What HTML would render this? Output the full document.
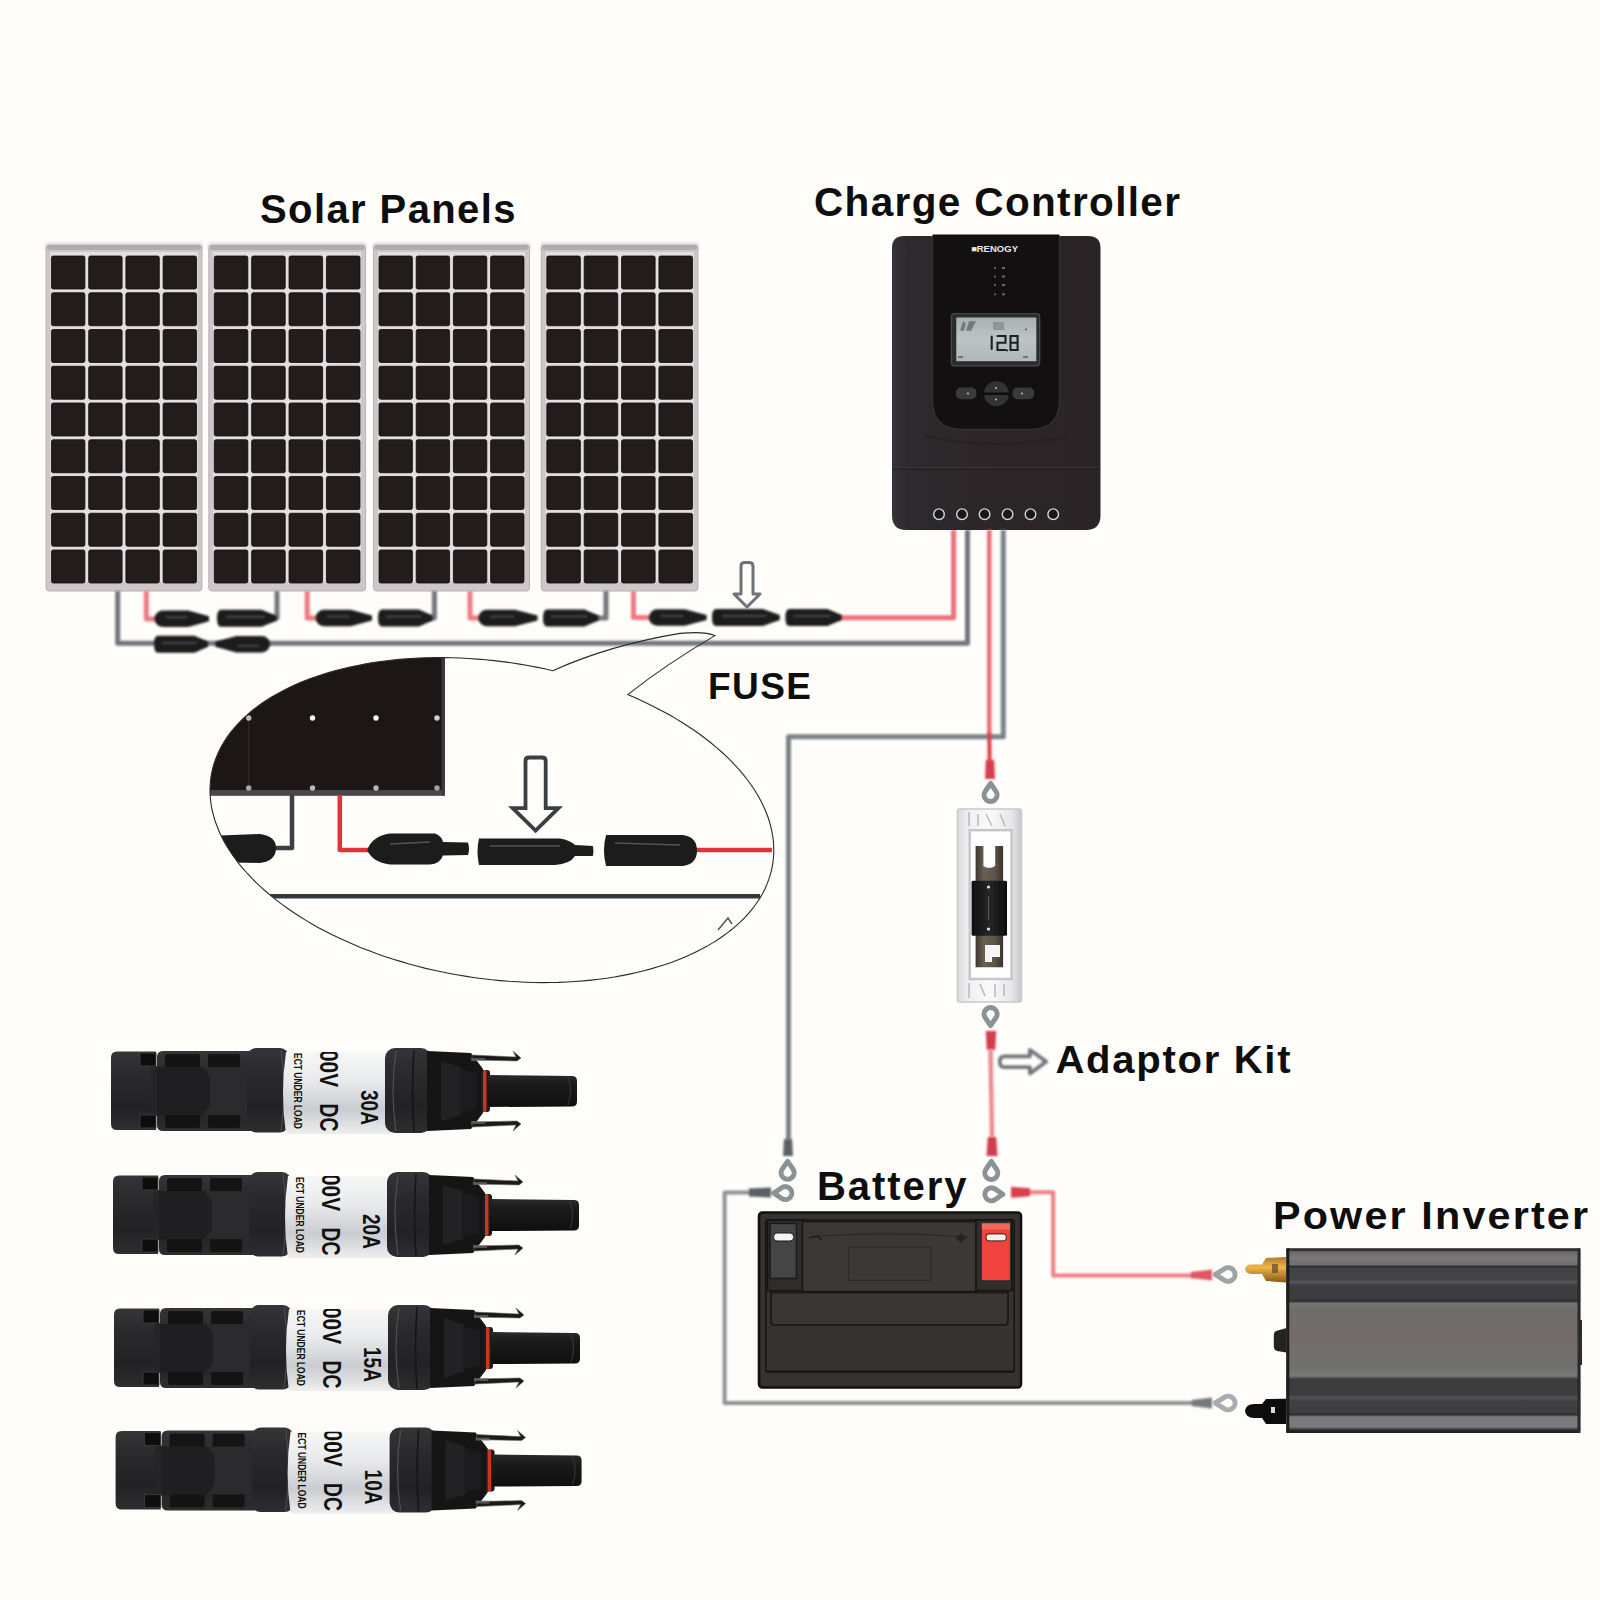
<!DOCTYPE html><html><head><meta charset="utf-8"><style>html,body{margin:0;padding:0;background:#fefdfa;}svg{display:block}</style></head><body>
<svg width="1600" height="1600" viewBox="0 0 1600 1600">
<defs><filter id="bl1" filterUnits="userSpaceOnUse" x="0" y="0" width="1600" height="1600"><feGaussianBlur stdDeviation="0.6"/></filter><filter id="bl2" filterUnits="userSpaceOnUse" x="0" y="0" width="1600" height="1600"><feGaussianBlur stdDeviation="0.9"/></filter><filter id="bl3" filterUnits="userSpaceOnUse" x="0" y="0" width="1600" height="1600"><feGaussianBlur stdDeviation="1.3"/></filter></defs>
<rect width="1600" height="1600" fill="#fefdfa"/>
<g>
<rect x="45.0" y="242" width="158.0" height="10" rx="3" fill="#d8d4d6" opacity="0.6" filter="url(#bl3)"/>
<rect x="46.0" y="245" width="156.0" height="346" rx="3" fill="#cdc7ca" stroke="#b9b3b7" stroke-width="1"/>
<rect x="47.0" y="245" width="154.0" height="5" rx="2" fill="#aaa3a9" opacity="0.8"/>
<rect x="50.5" y="252" width="147.0" height="330" fill="#e3dedf"/>
<rect x="51.50" y="256.00" width="33.40" height="33" rx="1.8" fill="#221c1b" stroke="#0f0b0b" stroke-width="0.8"/>
<rect x="88.70" y="256.00" width="33.40" height="33" rx="1.8" fill="#221c1b" stroke="#0f0b0b" stroke-width="0.8"/>
<rect x="125.90" y="256.00" width="33.40" height="33" rx="1.8" fill="#221c1b" stroke="#0f0b0b" stroke-width="0.8"/>
<rect x="163.10" y="256.00" width="33.40" height="33" rx="1.8" fill="#221c1b" stroke="#0f0b0b" stroke-width="0.8"/>
<rect x="51.50" y="292.75" width="33.40" height="33" rx="1.8" fill="#221c1b" stroke="#0f0b0b" stroke-width="0.8"/>
<rect x="88.70" y="292.75" width="33.40" height="33" rx="1.8" fill="#221c1b" stroke="#0f0b0b" stroke-width="0.8"/>
<rect x="125.90" y="292.75" width="33.40" height="33" rx="1.8" fill="#221c1b" stroke="#0f0b0b" stroke-width="0.8"/>
<rect x="163.10" y="292.75" width="33.40" height="33" rx="1.8" fill="#221c1b" stroke="#0f0b0b" stroke-width="0.8"/>
<rect x="51.50" y="329.50" width="33.40" height="33" rx="1.8" fill="#221c1b" stroke="#0f0b0b" stroke-width="0.8"/>
<rect x="88.70" y="329.50" width="33.40" height="33" rx="1.8" fill="#221c1b" stroke="#0f0b0b" stroke-width="0.8"/>
<rect x="125.90" y="329.50" width="33.40" height="33" rx="1.8" fill="#221c1b" stroke="#0f0b0b" stroke-width="0.8"/>
<rect x="163.10" y="329.50" width="33.40" height="33" rx="1.8" fill="#221c1b" stroke="#0f0b0b" stroke-width="0.8"/>
<rect x="51.50" y="366.25" width="33.40" height="33" rx="1.8" fill="#221c1b" stroke="#0f0b0b" stroke-width="0.8"/>
<rect x="88.70" y="366.25" width="33.40" height="33" rx="1.8" fill="#221c1b" stroke="#0f0b0b" stroke-width="0.8"/>
<rect x="125.90" y="366.25" width="33.40" height="33" rx="1.8" fill="#221c1b" stroke="#0f0b0b" stroke-width="0.8"/>
<rect x="163.10" y="366.25" width="33.40" height="33" rx="1.8" fill="#221c1b" stroke="#0f0b0b" stroke-width="0.8"/>
<rect x="51.50" y="403.00" width="33.40" height="33" rx="1.8" fill="#221c1b" stroke="#0f0b0b" stroke-width="0.8"/>
<rect x="88.70" y="403.00" width="33.40" height="33" rx="1.8" fill="#221c1b" stroke="#0f0b0b" stroke-width="0.8"/>
<rect x="125.90" y="403.00" width="33.40" height="33" rx="1.8" fill="#221c1b" stroke="#0f0b0b" stroke-width="0.8"/>
<rect x="163.10" y="403.00" width="33.40" height="33" rx="1.8" fill="#221c1b" stroke="#0f0b0b" stroke-width="0.8"/>
<rect x="51.50" y="439.75" width="33.40" height="33" rx="1.8" fill="#221c1b" stroke="#0f0b0b" stroke-width="0.8"/>
<rect x="88.70" y="439.75" width="33.40" height="33" rx="1.8" fill="#221c1b" stroke="#0f0b0b" stroke-width="0.8"/>
<rect x="125.90" y="439.75" width="33.40" height="33" rx="1.8" fill="#221c1b" stroke="#0f0b0b" stroke-width="0.8"/>
<rect x="163.10" y="439.75" width="33.40" height="33" rx="1.8" fill="#221c1b" stroke="#0f0b0b" stroke-width="0.8"/>
<rect x="51.50" y="476.50" width="33.40" height="33" rx="1.8" fill="#221c1b" stroke="#0f0b0b" stroke-width="0.8"/>
<rect x="88.70" y="476.50" width="33.40" height="33" rx="1.8" fill="#221c1b" stroke="#0f0b0b" stroke-width="0.8"/>
<rect x="125.90" y="476.50" width="33.40" height="33" rx="1.8" fill="#221c1b" stroke="#0f0b0b" stroke-width="0.8"/>
<rect x="163.10" y="476.50" width="33.40" height="33" rx="1.8" fill="#221c1b" stroke="#0f0b0b" stroke-width="0.8"/>
<rect x="51.50" y="513.25" width="33.40" height="33" rx="1.8" fill="#221c1b" stroke="#0f0b0b" stroke-width="0.8"/>
<rect x="88.70" y="513.25" width="33.40" height="33" rx="1.8" fill="#221c1b" stroke="#0f0b0b" stroke-width="0.8"/>
<rect x="125.90" y="513.25" width="33.40" height="33" rx="1.8" fill="#221c1b" stroke="#0f0b0b" stroke-width="0.8"/>
<rect x="163.10" y="513.25" width="33.40" height="33" rx="1.8" fill="#221c1b" stroke="#0f0b0b" stroke-width="0.8"/>
<rect x="51.50" y="550.00" width="33.40" height="33" rx="1.8" fill="#221c1b" stroke="#0f0b0b" stroke-width="0.8"/>
<rect x="88.70" y="550.00" width="33.40" height="33" rx="1.8" fill="#221c1b" stroke="#0f0b0b" stroke-width="0.8"/>
<rect x="125.90" y="550.00" width="33.40" height="33" rx="1.8" fill="#221c1b" stroke="#0f0b0b" stroke-width="0.8"/>
<rect x="163.10" y="550.00" width="33.40" height="33" rx="1.8" fill="#221c1b" stroke="#0f0b0b" stroke-width="0.8"/>
</g>
<g>
<rect x="207.8" y="242" width="158.8" height="10" rx="3" fill="#d8d4d6" opacity="0.6" filter="url(#bl3)"/>
<rect x="208.8" y="245" width="156.8" height="346" rx="3" fill="#cdc7ca" stroke="#b9b3b7" stroke-width="1"/>
<rect x="209.8" y="245" width="154.8" height="5" rx="2" fill="#aaa3a9" opacity="0.8"/>
<rect x="213.2" y="252" width="147.8" height="330" fill="#e3dedf"/>
<rect x="214.25" y="256.00" width="33.59" height="33" rx="1.8" fill="#221c1b" stroke="#0f0b0b" stroke-width="0.8"/>
<rect x="251.64" y="256.00" width="33.59" height="33" rx="1.8" fill="#221c1b" stroke="#0f0b0b" stroke-width="0.8"/>
<rect x="289.02" y="256.00" width="33.59" height="33" rx="1.8" fill="#221c1b" stroke="#0f0b0b" stroke-width="0.8"/>
<rect x="326.41" y="256.00" width="33.59" height="33" rx="1.8" fill="#221c1b" stroke="#0f0b0b" stroke-width="0.8"/>
<rect x="214.25" y="292.75" width="33.59" height="33" rx="1.8" fill="#221c1b" stroke="#0f0b0b" stroke-width="0.8"/>
<rect x="251.64" y="292.75" width="33.59" height="33" rx="1.8" fill="#221c1b" stroke="#0f0b0b" stroke-width="0.8"/>
<rect x="289.02" y="292.75" width="33.59" height="33" rx="1.8" fill="#221c1b" stroke="#0f0b0b" stroke-width="0.8"/>
<rect x="326.41" y="292.75" width="33.59" height="33" rx="1.8" fill="#221c1b" stroke="#0f0b0b" stroke-width="0.8"/>
<rect x="214.25" y="329.50" width="33.59" height="33" rx="1.8" fill="#221c1b" stroke="#0f0b0b" stroke-width="0.8"/>
<rect x="251.64" y="329.50" width="33.59" height="33" rx="1.8" fill="#221c1b" stroke="#0f0b0b" stroke-width="0.8"/>
<rect x="289.02" y="329.50" width="33.59" height="33" rx="1.8" fill="#221c1b" stroke="#0f0b0b" stroke-width="0.8"/>
<rect x="326.41" y="329.50" width="33.59" height="33" rx="1.8" fill="#221c1b" stroke="#0f0b0b" stroke-width="0.8"/>
<rect x="214.25" y="366.25" width="33.59" height="33" rx="1.8" fill="#221c1b" stroke="#0f0b0b" stroke-width="0.8"/>
<rect x="251.64" y="366.25" width="33.59" height="33" rx="1.8" fill="#221c1b" stroke="#0f0b0b" stroke-width="0.8"/>
<rect x="289.02" y="366.25" width="33.59" height="33" rx="1.8" fill="#221c1b" stroke="#0f0b0b" stroke-width="0.8"/>
<rect x="326.41" y="366.25" width="33.59" height="33" rx="1.8" fill="#221c1b" stroke="#0f0b0b" stroke-width="0.8"/>
<rect x="214.25" y="403.00" width="33.59" height="33" rx="1.8" fill="#221c1b" stroke="#0f0b0b" stroke-width="0.8"/>
<rect x="251.64" y="403.00" width="33.59" height="33" rx="1.8" fill="#221c1b" stroke="#0f0b0b" stroke-width="0.8"/>
<rect x="289.02" y="403.00" width="33.59" height="33" rx="1.8" fill="#221c1b" stroke="#0f0b0b" stroke-width="0.8"/>
<rect x="326.41" y="403.00" width="33.59" height="33" rx="1.8" fill="#221c1b" stroke="#0f0b0b" stroke-width="0.8"/>
<rect x="214.25" y="439.75" width="33.59" height="33" rx="1.8" fill="#221c1b" stroke="#0f0b0b" stroke-width="0.8"/>
<rect x="251.64" y="439.75" width="33.59" height="33" rx="1.8" fill="#221c1b" stroke="#0f0b0b" stroke-width="0.8"/>
<rect x="289.02" y="439.75" width="33.59" height="33" rx="1.8" fill="#221c1b" stroke="#0f0b0b" stroke-width="0.8"/>
<rect x="326.41" y="439.75" width="33.59" height="33" rx="1.8" fill="#221c1b" stroke="#0f0b0b" stroke-width="0.8"/>
<rect x="214.25" y="476.50" width="33.59" height="33" rx="1.8" fill="#221c1b" stroke="#0f0b0b" stroke-width="0.8"/>
<rect x="251.64" y="476.50" width="33.59" height="33" rx="1.8" fill="#221c1b" stroke="#0f0b0b" stroke-width="0.8"/>
<rect x="289.02" y="476.50" width="33.59" height="33" rx="1.8" fill="#221c1b" stroke="#0f0b0b" stroke-width="0.8"/>
<rect x="326.41" y="476.50" width="33.59" height="33" rx="1.8" fill="#221c1b" stroke="#0f0b0b" stroke-width="0.8"/>
<rect x="214.25" y="513.25" width="33.59" height="33" rx="1.8" fill="#221c1b" stroke="#0f0b0b" stroke-width="0.8"/>
<rect x="251.64" y="513.25" width="33.59" height="33" rx="1.8" fill="#221c1b" stroke="#0f0b0b" stroke-width="0.8"/>
<rect x="289.02" y="513.25" width="33.59" height="33" rx="1.8" fill="#221c1b" stroke="#0f0b0b" stroke-width="0.8"/>
<rect x="326.41" y="513.25" width="33.59" height="33" rx="1.8" fill="#221c1b" stroke="#0f0b0b" stroke-width="0.8"/>
<rect x="214.25" y="550.00" width="33.59" height="33" rx="1.8" fill="#221c1b" stroke="#0f0b0b" stroke-width="0.8"/>
<rect x="251.64" y="550.00" width="33.59" height="33" rx="1.8" fill="#221c1b" stroke="#0f0b0b" stroke-width="0.8"/>
<rect x="289.02" y="550.00" width="33.59" height="33" rx="1.8" fill="#221c1b" stroke="#0f0b0b" stroke-width="0.8"/>
<rect x="326.41" y="550.00" width="33.59" height="33" rx="1.8" fill="#221c1b" stroke="#0f0b0b" stroke-width="0.8"/>
</g>
<g>
<rect x="372.5" y="242" width="158.0" height="10" rx="3" fill="#d8d4d6" opacity="0.6" filter="url(#bl3)"/>
<rect x="373.5" y="245" width="156.0" height="346" rx="3" fill="#cdc7ca" stroke="#b9b3b7" stroke-width="1"/>
<rect x="374.5" y="245" width="154.0" height="5" rx="2" fill="#aaa3a9" opacity="0.8"/>
<rect x="378.0" y="252" width="147.0" height="330" fill="#e3dedf"/>
<rect x="379.00" y="256.00" width="33.40" height="33" rx="1.8" fill="#221c1b" stroke="#0f0b0b" stroke-width="0.8"/>
<rect x="416.20" y="256.00" width="33.40" height="33" rx="1.8" fill="#221c1b" stroke="#0f0b0b" stroke-width="0.8"/>
<rect x="453.40" y="256.00" width="33.40" height="33" rx="1.8" fill="#221c1b" stroke="#0f0b0b" stroke-width="0.8"/>
<rect x="490.60" y="256.00" width="33.40" height="33" rx="1.8" fill="#221c1b" stroke="#0f0b0b" stroke-width="0.8"/>
<rect x="379.00" y="292.75" width="33.40" height="33" rx="1.8" fill="#221c1b" stroke="#0f0b0b" stroke-width="0.8"/>
<rect x="416.20" y="292.75" width="33.40" height="33" rx="1.8" fill="#221c1b" stroke="#0f0b0b" stroke-width="0.8"/>
<rect x="453.40" y="292.75" width="33.40" height="33" rx="1.8" fill="#221c1b" stroke="#0f0b0b" stroke-width="0.8"/>
<rect x="490.60" y="292.75" width="33.40" height="33" rx="1.8" fill="#221c1b" stroke="#0f0b0b" stroke-width="0.8"/>
<rect x="379.00" y="329.50" width="33.40" height="33" rx="1.8" fill="#221c1b" stroke="#0f0b0b" stroke-width="0.8"/>
<rect x="416.20" y="329.50" width="33.40" height="33" rx="1.8" fill="#221c1b" stroke="#0f0b0b" stroke-width="0.8"/>
<rect x="453.40" y="329.50" width="33.40" height="33" rx="1.8" fill="#221c1b" stroke="#0f0b0b" stroke-width="0.8"/>
<rect x="490.60" y="329.50" width="33.40" height="33" rx="1.8" fill="#221c1b" stroke="#0f0b0b" stroke-width="0.8"/>
<rect x="379.00" y="366.25" width="33.40" height="33" rx="1.8" fill="#221c1b" stroke="#0f0b0b" stroke-width="0.8"/>
<rect x="416.20" y="366.25" width="33.40" height="33" rx="1.8" fill="#221c1b" stroke="#0f0b0b" stroke-width="0.8"/>
<rect x="453.40" y="366.25" width="33.40" height="33" rx="1.8" fill="#221c1b" stroke="#0f0b0b" stroke-width="0.8"/>
<rect x="490.60" y="366.25" width="33.40" height="33" rx="1.8" fill="#221c1b" stroke="#0f0b0b" stroke-width="0.8"/>
<rect x="379.00" y="403.00" width="33.40" height="33" rx="1.8" fill="#221c1b" stroke="#0f0b0b" stroke-width="0.8"/>
<rect x="416.20" y="403.00" width="33.40" height="33" rx="1.8" fill="#221c1b" stroke="#0f0b0b" stroke-width="0.8"/>
<rect x="453.40" y="403.00" width="33.40" height="33" rx="1.8" fill="#221c1b" stroke="#0f0b0b" stroke-width="0.8"/>
<rect x="490.60" y="403.00" width="33.40" height="33" rx="1.8" fill="#221c1b" stroke="#0f0b0b" stroke-width="0.8"/>
<rect x="379.00" y="439.75" width="33.40" height="33" rx="1.8" fill="#221c1b" stroke="#0f0b0b" stroke-width="0.8"/>
<rect x="416.20" y="439.75" width="33.40" height="33" rx="1.8" fill="#221c1b" stroke="#0f0b0b" stroke-width="0.8"/>
<rect x="453.40" y="439.75" width="33.40" height="33" rx="1.8" fill="#221c1b" stroke="#0f0b0b" stroke-width="0.8"/>
<rect x="490.60" y="439.75" width="33.40" height="33" rx="1.8" fill="#221c1b" stroke="#0f0b0b" stroke-width="0.8"/>
<rect x="379.00" y="476.50" width="33.40" height="33" rx="1.8" fill="#221c1b" stroke="#0f0b0b" stroke-width="0.8"/>
<rect x="416.20" y="476.50" width="33.40" height="33" rx="1.8" fill="#221c1b" stroke="#0f0b0b" stroke-width="0.8"/>
<rect x="453.40" y="476.50" width="33.40" height="33" rx="1.8" fill="#221c1b" stroke="#0f0b0b" stroke-width="0.8"/>
<rect x="490.60" y="476.50" width="33.40" height="33" rx="1.8" fill="#221c1b" stroke="#0f0b0b" stroke-width="0.8"/>
<rect x="379.00" y="513.25" width="33.40" height="33" rx="1.8" fill="#221c1b" stroke="#0f0b0b" stroke-width="0.8"/>
<rect x="416.20" y="513.25" width="33.40" height="33" rx="1.8" fill="#221c1b" stroke="#0f0b0b" stroke-width="0.8"/>
<rect x="453.40" y="513.25" width="33.40" height="33" rx="1.8" fill="#221c1b" stroke="#0f0b0b" stroke-width="0.8"/>
<rect x="490.60" y="513.25" width="33.40" height="33" rx="1.8" fill="#221c1b" stroke="#0f0b0b" stroke-width="0.8"/>
<rect x="379.00" y="550.00" width="33.40" height="33" rx="1.8" fill="#221c1b" stroke="#0f0b0b" stroke-width="0.8"/>
<rect x="416.20" y="550.00" width="33.40" height="33" rx="1.8" fill="#221c1b" stroke="#0f0b0b" stroke-width="0.8"/>
<rect x="453.40" y="550.00" width="33.40" height="33" rx="1.8" fill="#221c1b" stroke="#0f0b0b" stroke-width="0.8"/>
<rect x="490.60" y="550.00" width="33.40" height="33" rx="1.8" fill="#221c1b" stroke="#0f0b0b" stroke-width="0.8"/>
</g>
<g>
<rect x="540.3" y="242" width="158.7" height="10" rx="3" fill="#d8d4d6" opacity="0.6" filter="url(#bl3)"/>
<rect x="541.3" y="245" width="156.7" height="346" rx="3" fill="#cdc7ca" stroke="#b9b3b7" stroke-width="1"/>
<rect x="542.3" y="245" width="154.7" height="5" rx="2" fill="#aaa3a9" opacity="0.8"/>
<rect x="545.8" y="252" width="147.7" height="330" fill="#e3dedf"/>
<rect x="546.80" y="256.00" width="33.58" height="33" rx="1.8" fill="#221c1b" stroke="#0f0b0b" stroke-width="0.8"/>
<rect x="584.17" y="256.00" width="33.58" height="33" rx="1.8" fill="#221c1b" stroke="#0f0b0b" stroke-width="0.8"/>
<rect x="621.55" y="256.00" width="33.58" height="33" rx="1.8" fill="#221c1b" stroke="#0f0b0b" stroke-width="0.8"/>
<rect x="658.92" y="256.00" width="33.58" height="33" rx="1.8" fill="#221c1b" stroke="#0f0b0b" stroke-width="0.8"/>
<rect x="546.80" y="292.75" width="33.58" height="33" rx="1.8" fill="#221c1b" stroke="#0f0b0b" stroke-width="0.8"/>
<rect x="584.17" y="292.75" width="33.58" height="33" rx="1.8" fill="#221c1b" stroke="#0f0b0b" stroke-width="0.8"/>
<rect x="621.55" y="292.75" width="33.58" height="33" rx="1.8" fill="#221c1b" stroke="#0f0b0b" stroke-width="0.8"/>
<rect x="658.92" y="292.75" width="33.58" height="33" rx="1.8" fill="#221c1b" stroke="#0f0b0b" stroke-width="0.8"/>
<rect x="546.80" y="329.50" width="33.58" height="33" rx="1.8" fill="#221c1b" stroke="#0f0b0b" stroke-width="0.8"/>
<rect x="584.17" y="329.50" width="33.58" height="33" rx="1.8" fill="#221c1b" stroke="#0f0b0b" stroke-width="0.8"/>
<rect x="621.55" y="329.50" width="33.58" height="33" rx="1.8" fill="#221c1b" stroke="#0f0b0b" stroke-width="0.8"/>
<rect x="658.92" y="329.50" width="33.58" height="33" rx="1.8" fill="#221c1b" stroke="#0f0b0b" stroke-width="0.8"/>
<rect x="546.80" y="366.25" width="33.58" height="33" rx="1.8" fill="#221c1b" stroke="#0f0b0b" stroke-width="0.8"/>
<rect x="584.17" y="366.25" width="33.58" height="33" rx="1.8" fill="#221c1b" stroke="#0f0b0b" stroke-width="0.8"/>
<rect x="621.55" y="366.25" width="33.58" height="33" rx="1.8" fill="#221c1b" stroke="#0f0b0b" stroke-width="0.8"/>
<rect x="658.92" y="366.25" width="33.58" height="33" rx="1.8" fill="#221c1b" stroke="#0f0b0b" stroke-width="0.8"/>
<rect x="546.80" y="403.00" width="33.58" height="33" rx="1.8" fill="#221c1b" stroke="#0f0b0b" stroke-width="0.8"/>
<rect x="584.17" y="403.00" width="33.58" height="33" rx="1.8" fill="#221c1b" stroke="#0f0b0b" stroke-width="0.8"/>
<rect x="621.55" y="403.00" width="33.58" height="33" rx="1.8" fill="#221c1b" stroke="#0f0b0b" stroke-width="0.8"/>
<rect x="658.92" y="403.00" width="33.58" height="33" rx="1.8" fill="#221c1b" stroke="#0f0b0b" stroke-width="0.8"/>
<rect x="546.80" y="439.75" width="33.58" height="33" rx="1.8" fill="#221c1b" stroke="#0f0b0b" stroke-width="0.8"/>
<rect x="584.17" y="439.75" width="33.58" height="33" rx="1.8" fill="#221c1b" stroke="#0f0b0b" stroke-width="0.8"/>
<rect x="621.55" y="439.75" width="33.58" height="33" rx="1.8" fill="#221c1b" stroke="#0f0b0b" stroke-width="0.8"/>
<rect x="658.92" y="439.75" width="33.58" height="33" rx="1.8" fill="#221c1b" stroke="#0f0b0b" stroke-width="0.8"/>
<rect x="546.80" y="476.50" width="33.58" height="33" rx="1.8" fill="#221c1b" stroke="#0f0b0b" stroke-width="0.8"/>
<rect x="584.17" y="476.50" width="33.58" height="33" rx="1.8" fill="#221c1b" stroke="#0f0b0b" stroke-width="0.8"/>
<rect x="621.55" y="476.50" width="33.58" height="33" rx="1.8" fill="#221c1b" stroke="#0f0b0b" stroke-width="0.8"/>
<rect x="658.92" y="476.50" width="33.58" height="33" rx="1.8" fill="#221c1b" stroke="#0f0b0b" stroke-width="0.8"/>
<rect x="546.80" y="513.25" width="33.58" height="33" rx="1.8" fill="#221c1b" stroke="#0f0b0b" stroke-width="0.8"/>
<rect x="584.17" y="513.25" width="33.58" height="33" rx="1.8" fill="#221c1b" stroke="#0f0b0b" stroke-width="0.8"/>
<rect x="621.55" y="513.25" width="33.58" height="33" rx="1.8" fill="#221c1b" stroke="#0f0b0b" stroke-width="0.8"/>
<rect x="658.92" y="513.25" width="33.58" height="33" rx="1.8" fill="#221c1b" stroke="#0f0b0b" stroke-width="0.8"/>
<rect x="546.80" y="550.00" width="33.58" height="33" rx="1.8" fill="#221c1b" stroke="#0f0b0b" stroke-width="0.8"/>
<rect x="584.17" y="550.00" width="33.58" height="33" rx="1.8" fill="#221c1b" stroke="#0f0b0b" stroke-width="0.8"/>
<rect x="621.55" y="550.00" width="33.58" height="33" rx="1.8" fill="#221c1b" stroke="#0f0b0b" stroke-width="0.8"/>
<rect x="658.92" y="550.00" width="33.58" height="33" rx="1.8" fill="#221c1b" stroke="#0f0b0b" stroke-width="0.8"/>
</g>
<path d="M117.7 591.0 L117.7 643.3 L967.5 643.3 L967.5 530.0" fill="none" stroke="#72767c" stroke-width="5.0" stroke-linejoin="round" filter="url(#bl2)"/>
<path d="M146.3 591.0 L146.3 619.0 L160.0 619.0" fill="none" stroke="#ee7a81" stroke-width="5.0" stroke-linejoin="round" filter="url(#bl2)"/>
<path d="M307.2 591.0 L307.2 618.0 L320.0 618.0" fill="none" stroke="#ee7a81" stroke-width="5.0" stroke-linejoin="round" filter="url(#bl2)"/>
<path d="M470.0 591.0 L470.0 618.0 L482.0 618.0" fill="none" stroke="#ee7a81" stroke-width="5.0" stroke-linejoin="round" filter="url(#bl2)"/>
<path d="M633.5 591.0 L633.5 617.5 L652.0 617.5" fill="none" stroke="#ee7a81" stroke-width="5.0" stroke-linejoin="round" filter="url(#bl2)"/>
<path d="M265.0 618.0 L277.0 618.0 L277.0 591.0" fill="none" stroke="#72767c" stroke-width="5.0" stroke-linejoin="round" filter="url(#bl2)"/>
<path d="M425.0 618.0 L434.4 618.0 L434.4 591.0" fill="none" stroke="#72767c" stroke-width="5.0" stroke-linejoin="round" filter="url(#bl2)"/>
<path d="M590.0 618.0 L606.0 618.0 L606.0 591.0" fill="none" stroke="#72767c" stroke-width="5.0" stroke-linejoin="round" filter="url(#bl2)"/>
<path d="M835.0 617.7 L953.6 617.7 L953.6 530.0" fill="none" stroke="#ec6f78" stroke-width="5.0" stroke-linejoin="round" filter="url(#bl2)"/>
<path d="M162.8 610.5 L188.3 610.5 L209.0 616.2 L209.0 621.2 L188.3 627.0 L162.8 627.0 A8.2 8.2 0 0 1 162.8 610.5 Z" fill="#1d1d1e" filter="url(#bl3)"/>
<path d="M165.4 617.2 L187.2 617.2" stroke="#4a4a4d" stroke-width="2" filter="url(#bl3)"/>
<path d="M221.0 609.8 L261.6 609.8 L276.5 615.8 L276.5 620.8 L261.6 626.8 L221.0 626.8 Q217.0 626.8 217.0 618.3 Q217.0 609.8 221.0 609.8 Z" fill="#1d1d1e" filter="url(#bl3)"/>
<path d="M225.9 616.8 L264.6 616.8" stroke="#4a4a4d" stroke-width="2" filter="url(#bl3)"/>
<path d="M323.9 609.8 L350.6 609.8 L372.0 615.5 L372.0 620.5 L350.6 626.2 L323.9 626.2 A8.2 8.2 0 0 1 323.9 609.8 Z" fill="#1d1d1e" filter="url(#bl3)"/>
<path d="M326.9 616.5 L349.4 616.5" stroke="#4a4a4d" stroke-width="2" filter="url(#bl3)"/>
<path d="M382.0 609.5 L418.9 609.5 L432.5 615.5 L432.5 620.5 L418.9 626.5 L382.0 626.5 Q378.0 626.5 378.0 618.0 Q378.0 609.5 382.0 609.5 Z" fill="#1d1d1e" filter="url(#bl3)"/>
<path d="M386.2 616.5 L421.6 616.5" stroke="#4a4a4d" stroke-width="2" filter="url(#bl3)"/>
<path d="M486.6 609.8 L515.0 609.8 L537.5 615.5 L537.5 620.5 L515.0 626.2 L486.6 626.2 A8.2 8.2 0 0 1 486.6 609.8 Z" fill="#1d1d1e" filter="url(#bl3)"/>
<path d="M490.2 616.5 L513.9 616.5" stroke="#4a4a4d" stroke-width="2" filter="url(#bl3)"/>
<path d="M547.0 609.5 L584.5 609.5 L598.4 615.5 L598.4 620.5 L584.5 626.5 L547.0 626.5 Q543.0 626.5 543.0 618.0 Q543.0 609.5 547.0 609.5 Z" fill="#1d1d1e" filter="url(#bl3)"/>
<path d="M551.3 616.5 L587.3 616.5" stroke="#4a4a4d" stroke-width="2" filter="url(#bl3)"/>
<path d="M657.2 609.2 L684.7 609.2 L706.6 615.0 L706.6 620.0 L684.7 625.8 L657.2 625.8 A8.2 8.2 0 0 1 657.2 609.2 Z" fill="#1d1d1e" filter="url(#bl3)"/>
<path d="M660.5 616.0 L683.6 616.0" stroke="#4a4a4d" stroke-width="2" filter="url(#bl3)"/>
<path d="M716.0 609.0 L762.8 609.0 L779.8 615.0 L779.8 620.0 L762.8 626.0 L716.0 626.0 Q712.0 626.0 712.0 617.5 Q712.0 609.0 716.0 609.0 Z" fill="#1d1d1e" filter="url(#bl3)"/>
<path d="M722.2 616.0 L766.2 616.0" stroke="#4a4a4d" stroke-width="2" filter="url(#bl3)"/>
<path d="M789.4 609.0 L827.5 609.0 L841.6 615.0 L841.6 620.0 L827.5 626.0 L789.4 626.0 Q785.4 626.0 785.4 617.5 Q785.4 609.0 789.4 609.0 Z" fill="#1d1d1e" filter="url(#bl3)"/>
<path d="M793.8 616.0 L830.4 616.0" stroke="#4a4a4d" stroke-width="2" filter="url(#bl3)"/>
<path d="M158.0 635.8 L194.5 635.8 L208.0 641.8 L208.0 646.8 L194.5 652.8 L158.0 652.8 Q154.0 652.8 154.0 644.3 Q154.0 635.8 158.0 635.8 Z" fill="#1d1d1e" filter="url(#bl3)"/>
<path d="M162.1 642.8 L197.2 642.8" stroke="#4a4a4d" stroke-width="2" filter="url(#bl3)"/>
<path d="M261.8 636.0 L236.2 636.0 L215.5 641.8 L215.5 646.8 L236.2 652.5 L261.8 652.5 A8.2 8.2 0 0 0 261.8 636.0 Z" fill="#1d1d1e" filter="url(#bl3)"/>
<path d="M237.3 645.8 L259.1 645.8" stroke="#4a4a4d" stroke-width="2" filter="url(#bl3)"/>
<path d="M741 594 L741 566 Q741 562.4 745 562.4 L749 562.4 Q753 562.4 753 566 L753 594 L760 594 L747 607 L734 594 Z" fill="#fefdfa" stroke="#6e7378" stroke-width="3" stroke-linejoin="round" filter="url(#bl1)"/>
<text transform="translate(260.0 222.5) scale(1.000 1)" x="0" y="0" font-family="Liberation Sans, sans-serif" font-weight="bold" font-size="40.0" fill="#0e0e0e" textLength="255.5" lengthAdjust="spacing">Solar Panels</text>
<text transform="translate(814.0 216.0) scale(1.000 1)" x="0" y="0" font-family="Liberation Sans, sans-serif" font-weight="bold" font-size="40.5" fill="#0e0e0e" textLength="366.0" lengthAdjust="spacing">Charge Controller</text>
<text transform="translate(708.0 699.0) scale(1.000 1)" x="0" y="0" font-family="Liberation Sans, sans-serif" font-weight="bold" font-size="37.0" fill="#0e0e0e" textLength="103.0" lengthAdjust="spacing">FUSE</text>
<text transform="translate(1055.5 1072.5) scale(1.040 1)" x="0" y="0" font-family="Liberation Sans, sans-serif" font-weight="bold" font-size="38.5" fill="#0e0e0e" textLength="226.0" lengthAdjust="spacing">Adaptor Kit</text>
<text transform="translate(817.0 1199.5) scale(1.000 1)" x="0" y="0" font-family="Liberation Sans, sans-serif" font-weight="bold" font-size="40.0" fill="#0e0e0e" textLength="149.5" lengthAdjust="spacing">Battery</text>
<text transform="translate(1273.0 1228.5) scale(1.060 1)" x="0" y="0" font-family="Liberation Sans, sans-serif" font-weight="bold" font-size="39.0" fill="#0e0e0e" textLength="297.2" lengthAdjust="spacing">Power Inverter</text>
<defs><linearGradient id="ccbody" x1="0" y1="0" x2="1" y2="0"><stop offset="0" stop-color="#35323a"/><stop offset="0.08" stop-color="#2d292c"/><stop offset="0.6" stop-color="#2c2527"/><stop offset="1" stop-color="#2b2426"/></linearGradient><linearGradient id="lcd" x1="0" y1="0" x2="0" y2="1"><stop offset="0" stop-color="#a7b1b0"/><stop offset="0.5" stop-color="#bcc5c4"/><stop offset="1" stop-color="#aeb8b7"/></linearGradient></defs>
<path d="M904 236 L1088 236 Q1100.5 236 1100.5 248 L1100.5 515 Q1100.5 530 1086 530 L906 530 Q892 530 892 515 L892 248 Q892 236 904 236 Z" fill="url(#ccbody)"/>
<path d="M932.5 234.5 L1059.5 234.5 L1059.5 400 Q1059.5 429.5 1030 429.5 L962 429.5 Q932.5 429.5 932.5 400 Z" fill="#131011"/>
<path d="M932.5 236 L932.5 400 Q932.5 429.5 962 429.5 L1030 429.5 Q1059.5 429.5 1059.5 400 L1059.5 236" fill="none" stroke="#35302f" stroke-width="1.4"/>
<path d="M925 436 Q996 452 1068 436" fill="none" stroke="#242021" stroke-width="2" opacity="0.8"/>
<line x1="893" y1="467.5" x2="1100" y2="467.5" stroke="#3d3739" stroke-width="1.2"/>
<line x1="893" y1="469" x2="1100" y2="469" stroke="#1e1a1b" stroke-width="1"/>
<text x="971" y="252" font-family="Liberation Sans, sans-serif" font-weight="bold" font-size="8.5" fill="#e8e8e8" textLength="47" lengthAdjust="spacingAndGlyphs">&#9632;RENOGY</text>
<rect x="994" y="267.0" width="2" height="2" fill="#5a5a5a"/><rect x="1002" y="267.0" width="3" height="2" fill="#6a6a6a"/>
<rect x="994" y="275.6" width="2" height="2" fill="#5a5a5a"/><rect x="1002" y="275.6" width="3" height="2" fill="#6a6a6a"/>
<rect x="994" y="284.0" width="2" height="2" fill="#5a5a5a"/><rect x="1002" y="284.0" width="3" height="2" fill="#6a6a6a"/>
<rect x="994" y="293.3" width="2" height="2" fill="#5a5a5a"/><rect x="1002" y="293.3" width="3" height="2" fill="#6a6a6a"/>
<rect x="951.4" y="313.5" width="88.3" height="52.3" rx="3" fill="#2c2c2e" stroke="#4a4a4c" stroke-width="1.2"/>
<rect x="956.3" y="317.5" width="80" height="43.7" fill="url(#lcd)"/>
<path d="M960 330.7 L963 321.5 L966 323 L964 330.7 Z M966 330.7 L969 321.2 L976 321.2 L971 330.7 Z" fill="#67706f" opacity="0.85" filter="url(#bl1)"/>
<rect x="993" y="322" width="11" height="8" fill="#86908f" opacity="0.8" filter="url(#bl1)"/>
<circle cx="1026" cy="329.5" r="1" fill="#4a5252"/>
<path d="M958 357 L963 357 M1023 357 L1028 357" stroke="#5a6262" stroke-width="1.5"/>
<g fill="none" stroke="#1c2222" stroke-width="2.1" stroke-linecap="round" filter="url(#bl1)"><path d="M991.7 336.5 L991.7 349"/><path d="M997.5 336 L1005.5 336 L1005.5 342.8 L997.5 342.8 L997.5 350 L1005.8 350"/><path d="M1010.5 336 L1017.6 336 L1017.6 350 L1010.5 350 Z M1010.5 342.8 L1017.6 342.8"/></g>
<circle cx="1007.2" cy="350.5" r="0.9" fill="#1c2222"/>
<rect x="956" y="387.5" width="20.4" height="11.8" rx="5" fill="#3a3a3b"/>
<rect x="1012.5" y="387.5" width="21.7" height="11.8" rx="5" fill="#3a3a3b"/>
<circle cx="996.4" cy="393.7" r="12.5" fill="#333334"/>
<rect x="983" y="392.5" width="27" height="2.5" fill="#0e0e0e"/>
<circle cx="968.0" cy="393.5" r="0.9" fill="#cfcfcf"/>
<circle cx="1022.0" cy="393.5" r="0.9" fill="#cfcfcf"/>
<circle cx="996.0" cy="388.0" r="0.9" fill="#cfcfcf"/>
<circle cx="996.0" cy="399.5" r="0.9" fill="#cfcfcf"/>
<circle cx="939.0" cy="514.2" r="5.3" fill="#151718" stroke="#cfd9e0" stroke-width="1.4"/>
<circle cx="962.0" cy="514.2" r="5.3" fill="#151718" stroke="#cfd9e0" stroke-width="1.4"/>
<circle cx="984.6" cy="514.2" r="5.3" fill="#151718" stroke="#cfd9e0" stroke-width="1.4"/>
<circle cx="1007.6" cy="514.2" r="5.3" fill="#151718" stroke="#cfd9e0" stroke-width="1.4"/>
<circle cx="1030.5" cy="514.2" r="5.3" fill="#151718" stroke="#cfd9e0" stroke-width="1.4"/>
<circle cx="1053.2" cy="514.2" r="5.3" fill="#151718" stroke="#cfd9e0" stroke-width="1.4"/>
<path d="M1003.3 530.0 L1003.3 736.7 L788.5 736.7 L788.5 1140.0" fill="none" stroke="#7a8388" stroke-width="5.0" stroke-linejoin="round" filter="url(#bl2)"/>
<path d="M989.3 530.0 L989.3 735.0" fill="none" stroke="#e96d76" stroke-width="4.5" stroke-linejoin="round" filter="url(#bl2)"/>
<path d="M989.3 733.0 L989.6 762.0" fill="none" stroke="#e23e4c" stroke-width="4.0" stroke-linejoin="round" filter="url(#bl2)"/>
<defs><clipPath id="ellc"><ellipse cx="491.9" cy="820.1" rx="284.2" ry="158.4" transform="rotate(8.83 491.9 820.1)"/></clipPath></defs>
<g clip-path="url(#ellc)">
<rect x="200" y="640" width="600" height="360" fill="#fefdfa"/>
<rect x="150" y="600" width="294.8" height="195.5" fill="#1c1617"/>
<rect x="150" y="790" width="294.8" height="5.5" fill="#4a4748"/>
<rect x="441.5" y="600" width="3.3" height="195.5" fill="#3c3a3b"/>
<line x1="248.7" y1="600" x2="248.7" y2="790" stroke="#2b2526" stroke-width="1.5"/>
<circle cx="248.7" cy="718.0" r="2.7" fill="#bdbdbd" filter="url(#bl1)"/>
<circle cx="312.5" cy="718.0" r="2.7" fill="#f4f4f4" filter="url(#bl1)"/>
<circle cx="376.0" cy="718.0" r="2.7" fill="#f4f4f4" filter="url(#bl1)"/>
<circle cx="437.0" cy="718.0" r="2.7" fill="#d0d0d0" filter="url(#bl1)"/>
<circle cx="248.7" cy="788.0" r="2.7" fill="#a8a8a8" filter="url(#bl1)"/>
<circle cx="312.5" cy="788.0" r="2.7" fill="#b8b8b8" filter="url(#bl1)"/>
<circle cx="376.0" cy="788.0" r="2.7" fill="#b8b8b8" filter="url(#bl1)"/>
<circle cx="437.0" cy="788.0" r="2.7" fill="#a0a0a0" filter="url(#bl1)"/>
<path d="M292.0 795.0 L292.0 848.0 L270.0 848.0" fill="none" stroke="#3a4044" stroke-width="4.5" stroke-linejoin="round" filter="url(#bl1)"/>
<path d="M339.8 795.0 L339.8 850.0 L372.0 850.0" fill="none" stroke="#e2303a" stroke-width="4.5" stroke-linejoin="round" filter="url(#bl1)"/>
<path d="M690.0 850.0 L772.0 850.0" fill="none" stroke="#e2303a" stroke-width="4.5" stroke-linejoin="round" filter="url(#bl1)"/>
<rect x="200" y="894" width="560" height="4.5" fill="#33383c" filter="url(#bl1)"/>
<path d="M205 836 L260 834 Q276 836 276 848 Q276 861 260 863 L205 862 Z" fill="#1d1d1e" filter="url(#bl1)"/>
<path d="M367.3 850 Q372 836 390 833.5 L435 833.5 Q442 836 443 842 L468 842.5 Q470 849 468 855 L443 855.5 Q440 864 430 864.5 L390 864.5 Q372 862 367.3 850 Z" fill="#1d1d1e" filter="url(#bl1)"/>
<path d="M479 838.5 L560 838.5 Q570 840 575 845 L592.8 846 Q594 851 592.8 856 L575 856 Q570 864 555 865 L479 865 Q476 851.5 479 838.5 Z" fill="#1d1d1e" filter="url(#bl1)"/>
<path d="M606 835 L683 835 Q697 837 697 850.5 Q697 864 683 866 L606 866 Q602 850.5 606 835 Z" fill="#1d1d1e" filter="url(#bl1)"/>
<path d="M390 844 L430 842" stroke="#555" stroke-width="1.5" filter="url(#bl1)"/><path d="M490 846 L560 846" stroke="#555" stroke-width="1.5" filter="url(#bl1)"/><path d="M615 843 L680 845" stroke="#555" stroke-width="1.5" filter="url(#bl1)"/>
<path d="M525.5 808.2 L525.5 761 Q525.5 757.5 529 757.5 L542 757.5 Q545.7 757.5 545.7 761 L545.7 808.2 L558.4 808.2 L535.6 830.5 L512.7 808.2 Z" fill="#fefdfa" stroke="#3a3f43" stroke-width="3.8" stroke-linejoin="miter"/>
<path d="M718 930 L728 918 L732 924" fill="none" stroke="#555" stroke-width="1.5" filter="url(#bl1)"/>
</g>
<path d="M627.8 694.6 L635.1 697.8 L642.3 701.0 L649.4 704.4 L656.3 707.9 L663.1 711.4 L669.8 715.1 L676.2 718.9 L682.6 722.7 L688.7 726.7 L694.7 730.7 L700.4 734.8 L706.0 739.0 L711.4 743.3 L716.6 747.6 L721.6 752.0 L726.4 756.4 L731.0 760.9 L735.4 765.5 L739.5 770.1 L743.5 774.8 L747.2 779.5 L750.6 784.2 L753.9 789.0 L756.9 793.8 L759.6 798.6 L762.2 803.4 L764.4 808.3 L766.5 813.2 L768.3 818.0 L769.8 822.9 L771.1 827.8 L772.1 832.6 L772.9 837.5 L773.5 842.3 L773.7 847.1 L773.8 851.9 L773.5 856.7 L773.1 861.4 L772.3 866.1 L771.3 870.8 L770.1 875.4 L768.6 879.9 L766.9 884.4 L764.9 888.9 L762.7 893.3 L760.2 897.6 L757.5 901.8 L754.5 906.0 L751.4 910.1 L747.9 914.1 L744.3 918.1 L740.4 921.9 L736.3 925.7 L732.0 929.3 L727.4 932.9 L722.7 936.3 L717.7 939.7 L712.6 942.9 L707.2 946.1 L701.7 949.1 L695.9 952.0 L690.0 954.8 L683.9 957.4 L677.6 960.0 L671.2 962.4 L664.6 964.7 L657.8 966.8 L650.9 968.9 L643.9 970.8 L636.7 972.5 L629.4 974.1 L621.9 975.6 L614.4 977.0 L606.7 978.2 L598.9 979.2 L591.0 980.1 L583.1 980.9 L575.0 981.5 L566.9 982.0 L558.7 982.4 L550.5 982.5 L542.2 982.6 L533.9 982.5 L525.5 982.2 L517.1 981.8 L508.7 981.3 L500.2 980.6 L491.8 979.8 L483.3 978.8 L474.9 977.7 L466.4 976.4 L458.0 975.0 L449.7 973.5 L441.3 971.8 L433.0 970.0 L424.8 968.1 L416.6 966.0 L408.5 963.8 L400.5 961.4 L392.5 959.0 L384.6 956.4 L376.9 953.7 L369.2 950.8 L361.6 947.9 L354.2 944.8 L346.9 941.6 L339.7 938.3 L332.7 935.0 L325.8 931.5 L319.0 927.9 L312.4 924.2 L306.0 920.4 L299.7 916.5 L293.6 912.5 L287.7 908.5 L282.0 904.4 L276.4 900.1 L271.1 895.9 L265.9 891.5 L261.0 887.1 L256.2 882.6 L251.7 878.1 L247.4 873.5 L243.3 868.9 L239.4 864.3 L235.8 859.5 L232.3 854.8 L229.2 850.0 L226.2 845.2 L223.5 840.4 L221.0 835.6 L218.8 830.7 L216.9 825.8 L215.1 821.0 L213.7 816.1 L212.4 811.2 L211.4 806.4 L210.7 801.5 L210.3 796.7 L210.0 791.9 L210.1 787.1 L210.4 782.3 L210.9 777.6 L211.7 772.9 L212.7 768.3 L214.0 763.7 L215.6 759.1 L217.4 754.6 L219.4 750.2 L221.7 745.8 L224.3 741.5 L227.0 737.3 L230.0 733.2 L233.3 729.1 L236.8 725.1 L240.5 721.2 L244.4 717.4 L248.6 713.6 L252.9 710.0 L257.5 706.5 L262.3 703.0 L267.3 699.7 L272.5 696.5 L278.0 693.4 L283.6 690.4 L289.3 687.5 L295.3 684.8 L301.5 682.1 L307.8 679.6 L314.3 677.2 L320.9 675.0 L327.7 672.8 L334.6 670.8 L341.7 669.0 L348.9 667.3 L356.3 665.7 L363.8 664.2 L371.4 662.9 L379.0 661.8 L386.8 660.7 L394.7 659.9 L402.7 659.1 L410.8 658.5 L418.9 658.1 L427.1 657.8 L435.4 657.6 L443.7 657.6 L452.0 657.8 L460.4 658.0 L468.8 658.5 L477.2 659.1 L485.7 659.8 L494.1 660.6 L502.6 661.6 L511.0 662.8 L519.5 664.1 L527.9 665.5 L536.2 667.1 L544.6 668.8 L552.8 670.7 Q610 645 680 633.4 Q705 631 714.9 635.6 Q665 665 627.8 694.6 Z" fill="none" stroke="#2a2a2a" stroke-width="1.1" stroke-linejoin="miter"/>
<path d="M985.8 760.0 L994.2 760.0 L995.0 779.0 L985.0 779.0 Z" fill="#d83e4c" filter="url(#bl2)"/>
<path d="M996.0 791.3 L990.6 783.5 L985.2 791.3 A6.5 6.5 0 1 0 996.0 791.3 Z" fill="none" stroke="#8a9296" stroke-width="5.0" stroke-linejoin="round" filter="url(#bl1)"/>
<defs><linearGradient id="fhold" x1="0" y1="0" x2="1" y2="0"><stop offset="0" stop-color="#d9dadd"/><stop offset="0.15" stop-color="#eeeef0"/><stop offset="0.5" stop-color="#fafafa"/><stop offset="0.85" stop-color="#e6e6e9"/><stop offset="1" stop-color="#c6c7cc"/></linearGradient><linearGradient id="blade" x1="0" y1="0" x2="1" y2="0"><stop offset="0" stop-color="#3e362c"/><stop offset="0.3" stop-color="#6a5f52"/><stop offset="0.7" stop-color="#5d5347"/><stop offset="1" stop-color="#3a3228"/></linearGradient><linearGradient id="fbody" x1="0" y1="0" x2="1" y2="0"><stop offset="0" stop-color="#0e0e0e"/><stop offset="0.5" stop-color="#262626"/><stop offset="1" stop-color="#0e0e0e"/></linearGradient></defs>
<g filter="url(#bl1)">
<rect x="957.5" y="809" width="64" height="193" rx="2.5" fill="url(#fhold)" stroke="#c9cace" stroke-width="1.6"/>
<rect x="969.7" y="830.2" width="41.9" height="148.8" fill="#fdfdfd" stroke="#c4c5c9" stroke-width="2.4"/>
<path d="M969 812 L969 826 M978 814 L978 826 M986 814 L992 826 M1000 814 L1005 826" stroke="#b8b9bd" stroke-width="1.5" fill="none"/>
<path d="M969 983 L969 998 M980 984 L985 996 M995 984 L995 997 M1004 984 L1004 996" stroke="#b8b9bd" stroke-width="1.5" fill="none"/>
<path d="M975.6 846 L983.4 846 L983.4 866 Q989 870 995.2 866 L995.2 846 L1003.1 846 L1003.1 882 L975.6 882 Z" fill="url(#blade)"/>
<path d="M975.6 935 L1003.1 935 L1003.1 967.2 L975.6 967.2 Z" fill="url(#blade)"/>
<path d="M985 945 L1000 945 L1000 957 L992 957 L992 962 L985 962 Z" fill="#f4f4f4"/>
<rect x="971.6" y="880.7" width="35.4" height="55" rx="1.5" fill="url(#fbody)"/>
<circle cx="988.5" cy="887" r="1.6" fill="#e5e5e5"/><circle cx="988.5" cy="929" r="1.6" fill="#e5e5e5"/>
<path d="M988.5 896 L988.5 920" stroke="#555" stroke-width="1.2"/>
</g>
<path d="M985.2 1017.7 L990.6 1025.5 L996.0 1017.7 A6.5 6.5 0 1 0 985.2 1017.7 Z" fill="none" stroke="#8a9296" stroke-width="5.0" stroke-linejoin="round" filter="url(#bl1)"/>
<path d="M986.8 1050.0 L995.2 1050.0 L996.2 1031.0 L985.8 1031.0 Z" fill="#d23c4c" filter="url(#bl2)"/>
<path d="M990.5 1049.0 L992.0 1137.0" fill="none" stroke="#ee8a92" stroke-width="4.5" stroke-linejoin="round" filter="url(#bl2)"/>
<path d="M1004 1056.5 L1030 1056.5 L1030 1050 L1046 1061.7 L1030 1073.4 L1030 1067 L1004 1067 Q1000 1067 1000 1061.7 Q1000 1056.5 1004 1056.5 Z" fill="#fefdfa" stroke="#72777b" stroke-width="4" stroke-linejoin="round" filter="url(#bl2)"/>
<path d="M784.0 1139.0 L792.0 1139.0 L793.0 1156.0 L783.0 1156.0 Z" fill="#5d6163" filter="url(#bl2)"/>
<path d="M793.0 1169.2 L787.6 1161.4 L782.2 1169.2 A6.5 6.5 0 1 0 793.0 1169.2 Z" fill="none" stroke="#8a9296" stroke-width="5.0" stroke-linejoin="round" filter="url(#bl1)"/>
<path d="M781.7 1187.7 L773.9 1193.1 L781.7 1198.5 A6.5 6.5 0 1 0 781.7 1187.7 Z" fill="none" stroke="#8a9296" stroke-width="5.0" stroke-linejoin="round" filter="url(#bl1)"/>
<path d="M769.0 1192.5 L724.6 1192.5 L724.6 1403.0 L1195.0 1403.0" fill="none" stroke="#8d9194" stroke-width="4.0" stroke-linejoin="round" filter="url(#bl2)"/>
<path d="M749.0 1188.5 L749.0 1196.5 L771.0 1197.5 L771.0 1187.5 Z" fill="#5d6163" filter="url(#bl2)"/>
<path d="M987.8 1137.0 L996.2 1137.0 L997.5 1156.0 L986.5 1156.0 Z" fill="#d23c4c" filter="url(#bl2)"/>
<path d="M996.7 1169.3 L991.3 1161.5 L985.9 1169.3 A6.5 6.5 0 1 0 996.7 1169.3 Z" fill="none" stroke="#8a9296" stroke-width="5.0" stroke-linejoin="round" filter="url(#bl1)"/>
<path d="M995.0 1199.7 L1002.8 1194.3 L995.0 1188.9 A6.5 6.5 0 1 0 995.0 1199.7 Z" fill="none" stroke="#8a9296" stroke-width="5.0" stroke-linejoin="round" filter="url(#bl1)"/>
<path d="M1020.0 1192.3 L1053.2 1192.3 L1053.2 1275.4 L1195.0 1275.4" fill="none" stroke="#f07d83" stroke-width="4.0" stroke-linejoin="round" filter="url(#bl2)"/>
<path d="M1030.0 1188.3 L1030.0 1196.3 L1011.0 1197.8 L1011.0 1186.8 Z" fill="#d8404e" filter="url(#bl2)"/>
<path d="M1191.0 1272.0 L1191.0 1278.0 L1212.0 1280.5 L1212.0 1269.5 Z" fill="#e05664" filter="url(#bl2)"/>
<path d="M1224.7 1268.7 L1215.3 1274.5 L1224.7 1280.3 A6.8 6.8 0 1 0 1224.7 1268.7 Z" fill="none" stroke="#9ea3a6" stroke-width="5.0" stroke-linejoin="round" filter="url(#bl1)"/>
<path d="M1192.0 1400.0 L1192.0 1406.0 L1212.0 1408.5 L1212.0 1397.5 Z" fill="#76797b" filter="url(#bl2)"/>
<path d="M1224.7 1397.2 L1215.3 1403.0 L1224.7 1408.8 A6.8 6.8 0 1 0 1224.7 1397.2 Z" fill="none" stroke="#a9adb0" stroke-width="5.0" stroke-linejoin="round" filter="url(#bl1)"/>
<rect x="759" y="1212.5" width="262" height="175" rx="3.5" fill="#353230" stroke="#111" stroke-width="2.6"/>
<rect x="765.8" y="1220" width="248.4" height="152" rx="2" fill="#363331" stroke="#171615" stroke-width="1.6"/>
<rect x="767.5" y="1220" width="35" height="70.7" fill="#302e2c" stroke="#141312" stroke-width="1.5"/>
<rect x="770" y="1223.4" width="26.4" height="55" fill="#464545" stroke="#1a1a1a" stroke-width="1.5"/>
<rect x="773.6" y="1233" width="20" height="8" rx="3.5" fill="#f5f3ee" stroke="#1a1a1a" stroke-width="1"/>
<rect x="975.8" y="1220" width="36.2" height="70.7" fill="#302e2c" stroke="#141312" stroke-width="1.5"/>
<rect x="981.9" y="1223.4" width="28" height="56.8" fill="#f1433d"/>
<rect x="981.9" y="1223.4" width="28" height="6" fill="#f06a58"/>
<rect x="986" y="1233.9" width="20.4" height="7" rx="3" fill="#f7efe9" stroke="#3a1a18" stroke-width="1"/>
<rect x="802.5" y="1221.6" width="173.3" height="70" fill="#3b3836" stroke="#191817" stroke-width="1.5"/>
<path d="M812 1236.5 Q890 1231 968 1237" fill="none" stroke="#2a2827" stroke-width="1.2"/>
<path d="M809 1238 L818 1236 L822 1240" fill="none" stroke="#1d1c1b" stroke-width="1.5"/>
<path d="M961 1233 L966 1238 L961 1243 L956 1238 Z" fill="#252423"/>
<rect x="848.9" y="1247" width="82.2" height="33.3" fill="none" stroke="#2c2a29" stroke-width="1.1"/>
<path d="M771 1292.5 L1008 1292.5 L1008 1321 Q1008 1325 1004 1325 L775 1325 Q771 1325 771 1321 Z" fill="#393634" stroke="#161514" stroke-width="1.6"/>
<line x1="767" y1="1371.3" x2="1013" y2="1371.3" stroke="#141312" stroke-width="1.8"/>
<defs><linearGradient id="invg" gradientUnits="userSpaceOnUse" x1="0" y1="1248" x2="0" y2="1433"><stop offset="0.0000" stop-color="#222222"/><stop offset="0.0108" stop-color="#2d2d2d"/><stop offset="0.0216" stop-color="#6a686a"/><stop offset="0.0541" stop-color="#7b797b"/><stop offset="0.0919" stop-color="#6e6c6e"/><stop offset="0.1000" stop-color="#2a2a2a"/><stop offset="0.1108" stop-color="#434345"/><stop offset="0.1730" stop-color="#444446"/><stop offset="0.1838" stop-color="#58585a"/><stop offset="0.2000" stop-color="#3e3e40"/><stop offset="0.2757" stop-color="#3c3c3e"/><stop offset="0.2865" stop-color="#2c2c2c"/><stop offset="0.3000" stop-color="#767676"/><stop offset="0.3351" stop-color="#6e6c6a"/><stop offset="0.4973" stop-color="#726d6a"/><stop offset="0.6595" stop-color="#72716f"/><stop offset="0.6919" stop-color="#7a7c7a"/><stop offset="0.7081" stop-color="#3c3b3d"/><stop offset="0.7946" stop-color="#3e3d3f"/><stop offset="0.8081" stop-color="#525254"/><stop offset="0.8270" stop-color="#404042"/><stop offset="0.8865" stop-color="#3f3f41"/><stop offset="0.9000" stop-color="#2f2f2f"/><stop offset="0.9135" stop-color="#79787a"/><stop offset="0.9676" stop-color="#7a797b"/><stop offset="0.9838" stop-color="#2a2a2a"/><stop offset="1.0000" stop-color="#1e1e1e"/></linearGradient></defs>
<rect x="1286.3" y="1248.2" width="294" height="184.8" rx="2" fill="url(#invg)"/>
<rect x="1286.3" y="1248.2" width="3" height="184.8" fill="#1c1c1c"/><rect x="1577.5" y="1248.2" width="3" height="184.8" fill="#2a2a2a"/>
<path d="M1286.5 1328 L1276 1331 Q1273.8 1332 1273.8 1336 L1273.8 1346 Q1273.8 1350 1277 1351 L1286.5 1352.4 Z" fill="#232323"/>
<rect x="1578" y="1320" width="4" height="45" fill="#2c2c2c"/>
<defs><linearGradient id="gold" x1="0" y1="0" x2="0" y2="1"><stop offset="0" stop-color="#b07a20"/><stop offset="0.4" stop-color="#f0b648"/><stop offset="1" stop-color="#8a5a10"/></linearGradient></defs>
<path d="M1245 1269 Q1246 1264 1252 1264.5 L1262 1264.5 L1266 1258 L1286 1257 L1286 1282.4 L1266 1281 L1262 1274 L1252 1274 Q1246 1274 1245 1269 Z" fill="url(#gold)" filter="url(#bl1)"/>
<rect x="1272" y="1264" width="6" height="9" fill="#5e4a2a" opacity="0.7"/>
<path d="M1245 1411 Q1246 1404 1254 1404 L1262 1404 L1266 1399 L1286 1398.8 L1286 1424 L1266 1424 L1262 1418 L1254 1418 Q1246 1418 1245 1411 Z" fill="#0c0c0c" filter="url(#bl1)"/>
<rect x="1271" y="1407" width="4" height="6" fill="#f0f0f0" opacity="0.9"/>
<defs><linearGradient id="lbl" x1="0" y1="0" x2="0" y2="1"><stop offset="0" stop-color="#f7f7f7"/><stop offset="0.35" stop-color="#e9eaec"/><stop offset="0.7" stop-color="#c9ccd1"/><stop offset="1" stop-color="#eeeeee"/></linearGradient><linearGradient id="blk" x1="0" y1="0" x2="0" y2="1"><stop offset="0" stop-color="#353538"/><stop offset="0.3" stop-color="#2a2a2d"/><stop offset="0.7" stop-color="#222224"/><stop offset="1" stop-color="#2e2e30"/></linearGradient><linearGradient id="pin" x1="0" y1="0" x2="0" y2="1"><stop offset="0" stop-color="#2a2a2c"/><stop offset="0.3" stop-color="#1a1a1b"/><stop offset="1" stop-color="#0f0f10"/></linearGradient><g id="mc4"><path d="M6 -39.5 L45 -39.5 L45 39 L6 39 Q0 39 0 33 L0 -33.5 Q0 -39.5 6 -39.5 Z" fill="url(#blk)"/><rect x="40" y="-25" width="12" height="50" fill="#252527"/><rect x="29" y="-38" width="16" height="13" fill="#0d0d0e" stroke="#3a3a3c" stroke-width="1"/><rect x="29" y="24" width="16" height="13" fill="#0d0d0e" stroke="#3a3a3c" stroke-width="1"/><path d="M52 -40 L140 -40 L140 40 L52 40 Q46 40 46 34 L46 -34 Q46 -40 52 -40 Z" fill="url(#blk)"/><rect x="54" y="-37" width="35" height="14" rx="2" fill="#141415"/><rect x="97" y="-37" width="32" height="14" rx="2" fill="#141415"/><rect x="54" y="23" width="35" height="14" rx="2" fill="#141415"/><rect x="97" y="23" width="32" height="14" rx="2" fill="#141415"/><path d="M46 -24 L92 -24 L99 -14 L99 14 L92 24 L46 24 Z" fill="#1f1f21"/><path d="M92 -24 L129 -24 L140 -36 L140 36 L129 24 L92 24 L99 14 L99 -14 Z" fill="#2b2b2e"/><rect x="136" y="-43" width="42" height="84.5" rx="9" fill="url(#blk)"/><path d="M170 -41 Q176 0 170 40" fill="none" stroke="#4a4a4e" stroke-width="1.2"/><path d="M175 -39 L279 -39 L279 43 L175 43 Q169 2 175 -39 Z" fill="url(#lbl)"/><rect x="274" y="-43" width="46" height="85" rx="10" fill="url(#blk)"/><path d="M285 -40 Q279 0 285 40" fill="none" stroke="#505055" stroke-width="1.2"/><path d="M303 -41 Q300 0 303 41" fill="none" stroke="#151516" stroke-width="1.5"/><path d="M316 -40 L360 -38 L372 -22 L372 22 L360 38 L316 40 Z" fill="#151516"/><path d="M330 -30 L350 -24 L350 24 L330 30 Z" fill="#222225"/><path d="M349 -22 L366 -18 L366 18 L349 22 Z" fill="#1c1c1e"/><path d="M361 -36 L405 -34 L402 -40 L410 -33 L406 -30 L361 -31 Z" fill="#1a1a1b" stroke="#666" stroke-width="0.6"/><path d="M361 36 L405 34 L402 40 L410 33 L406 30 L361 31 Z" fill="#1a1a1b" stroke="#666" stroke-width="0.6"/><rect x="360" y="-33" width="14" height="3" fill="#777" opacity="0.6"/><rect x="360" y="30" width="14" height="3" fill="#777" opacity="0.6"/><rect x="370" y="-21" width="9" height="42" rx="3" fill="#1c1c1d"/><rect x="372" y="-21" width="3.5" height="42" rx="1.5" fill="#c8361e"/><path d="M377 -16 L461 -15 Q466 -15 466 -10 L466 10.5 Q466 15.5 461 15.5 L377 16 Z" fill="url(#pin)"/><path d="M457 -14 Q462 0 457 14" fill="none" stroke="#3a3a3c" stroke-width="1"/></g></defs>
<g transform="translate(111.0 1091.0)">
<use href="#mc4"/>
<defs><clipPath id="lc30A"><path d="M175 -39 L279 -39 L279 43 L175 43 Q169 2 175 -39 Z"/></clipPath></defs>
<g clip-path="url(#lc30A)">
<text transform="translate(182.5 -38) rotate(90)" font-family="Liberation Sans, sans-serif" font-size="11.5" font-weight="bold" fill="#111" textLength="76" lengthAdjust="spacingAndGlyphs">ECT UNDER LOAD</text>
<text transform="translate(208.5 -41) rotate(90)" font-family="Liberation Sans, sans-serif" font-size="25" font-weight="bold" fill="#111" textLength="37" lengthAdjust="spacingAndGlyphs">00V</text>
<text transform="translate(208.5 12.5) rotate(90)" font-family="Liberation Sans, sans-serif" font-size="25" font-weight="bold" fill="#111" textLength="28" lengthAdjust="spacingAndGlyphs">DC</text>
<text transform="translate(249.5 -1) rotate(90)" font-family="Liberation Sans, sans-serif" font-size="23" font-weight="bold" fill="#111" textLength="35" lengthAdjust="spacingAndGlyphs">30A</text>
</g></g>
<g transform="translate(113.0 1215.0)">
<use href="#mc4"/>
<defs><clipPath id="lc20A"><path d="M175 -39 L279 -39 L279 43 L175 43 Q169 2 175 -39 Z"/></clipPath></defs>
<g clip-path="url(#lc20A)">
<text transform="translate(182.5 -38) rotate(90)" font-family="Liberation Sans, sans-serif" font-size="11.5" font-weight="bold" fill="#111" textLength="76" lengthAdjust="spacingAndGlyphs">ECT UNDER LOAD</text>
<text transform="translate(208.5 -41) rotate(90)" font-family="Liberation Sans, sans-serif" font-size="25" font-weight="bold" fill="#111" textLength="37" lengthAdjust="spacingAndGlyphs">00V</text>
<text transform="translate(208.5 12.5) rotate(90)" font-family="Liberation Sans, sans-serif" font-size="25" font-weight="bold" fill="#111" textLength="28" lengthAdjust="spacingAndGlyphs">DC</text>
<text transform="translate(249.5 -1) rotate(90)" font-family="Liberation Sans, sans-serif" font-size="23" font-weight="bold" fill="#111" textLength="35" lengthAdjust="spacingAndGlyphs">20A</text>
</g></g>
<g transform="translate(114.0 1348.0)">
<use href="#mc4"/>
<defs><clipPath id="lc15A"><path d="M175 -39 L279 -39 L279 43 L175 43 Q169 2 175 -39 Z"/></clipPath></defs>
<g clip-path="url(#lc15A)">
<text transform="translate(182.5 -38) rotate(90)" font-family="Liberation Sans, sans-serif" font-size="11.5" font-weight="bold" fill="#111" textLength="76" lengthAdjust="spacingAndGlyphs">ECT UNDER LOAD</text>
<text transform="translate(208.5 -41) rotate(90)" font-family="Liberation Sans, sans-serif" font-size="25" font-weight="bold" fill="#111" textLength="37" lengthAdjust="spacingAndGlyphs">00V</text>
<text transform="translate(208.5 12.5) rotate(90)" font-family="Liberation Sans, sans-serif" font-size="25" font-weight="bold" fill="#111" textLength="28" lengthAdjust="spacingAndGlyphs">DC</text>
<text transform="translate(249.5 -1) rotate(90)" font-family="Liberation Sans, sans-serif" font-size="23" font-weight="bold" fill="#111" textLength="35" lengthAdjust="spacingAndGlyphs">15A</text>
</g></g>
<g transform="translate(115.6 1470.6)">
<use href="#mc4"/>
<defs><clipPath id="lc10A"><path d="M175 -39 L279 -39 L279 43 L175 43 Q169 2 175 -39 Z"/></clipPath></defs>
<g clip-path="url(#lc10A)">
<text transform="translate(182.5 -38) rotate(90)" font-family="Liberation Sans, sans-serif" font-size="11.5" font-weight="bold" fill="#111" textLength="76" lengthAdjust="spacingAndGlyphs">ECT UNDER LOAD</text>
<text transform="translate(208.5 -41) rotate(90)" font-family="Liberation Sans, sans-serif" font-size="25" font-weight="bold" fill="#111" textLength="37" lengthAdjust="spacingAndGlyphs">00V</text>
<text transform="translate(208.5 12.5) rotate(90)" font-family="Liberation Sans, sans-serif" font-size="25" font-weight="bold" fill="#111" textLength="28" lengthAdjust="spacingAndGlyphs">DC</text>
<text transform="translate(249.5 -1) rotate(90)" font-family="Liberation Sans, sans-serif" font-size="23" font-weight="bold" fill="#111" textLength="35" lengthAdjust="spacingAndGlyphs">10A</text>
</g></g>
</svg></body></html>
